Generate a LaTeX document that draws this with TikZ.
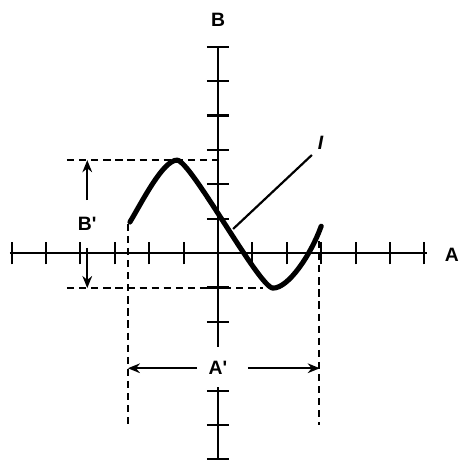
\documentclass[tikz,border=0pt]{standalone}
\usepackage{fontspec}
\setmainfont{Liberation Sans}
\usetikzlibrary{arrows.meta}
\begin{document}
\begin{tikzpicture}[x=1cm,y=1cm,
  axis/.style={line width=2.2pt},
  tickmark/.style={line width=1.8pt},
  curve/.style={line width=4.2pt,line cap=round},
  guide/.style={line width=1.8pt,dash pattern=on 6pt off 4pt},
  dim/.style={line width=1.9pt,-{Stealth[length=10pt,width=8pt]}},
  lbl/.style={font=\fontsize{16}{18}\selectfont\bfseries, inner sep=1pt}]
\useasboundingbox (-6.337,-6.017) rectangle (7.006,7.355);
% coordinates
\coordinate (O) at (0,0);
\coordinate (Al) at (-6.05,0);
\coordinate (Ar) at (6.08,0);
\coordinate (Bt) at (0,6.0);
\coordinate (Bm) at (0,-2.73);
\coordinate (Bb1) at (0,-3.9);
\coordinate (Bb2) at (0,-6.1);
% axes
\draw[axis] (Al) -- (Ar);
\draw[axis] (Bt) -- (Bm);
\draw[axis] (Bb1) -- (Bb2);
\foreach \i in {-6,...,-1,1,2,...,6}
  \draw[tickmark] (\i,-0.33) -- (\i,0.33);
\foreach \j in {1,...,6,-1,-2,-4,-5,-6}
  \draw[tickmark] (-0.32,\j) -- (0.32,\j);
\node[lbl] (labB) at (0,6.77) {B};
\node[lbl] (labA) at (6.8,-0.05) {A};
% dashed guides
\coordinate (S) at (-2.56,0.90);
\coordinate (P) at (-1.19,2.70);
\coordinate (T) at (1.6,-1.02);
\coordinate (E) at (3.0,0.78);
\coordinate (gt1) at (-4.39,2.70);
\coordinate (gt2) at (0,2.70);
\coordinate (gb1) at (-4.39,-1.02);
\coordinate (gb2) at (1.3,-1.02);
\coordinate (gl1) at (-2.62,0.85);
\coordinate (gl2) at (-2.62,-5.0);
\coordinate (gr1) at (2.94,0.35);
\coordinate (gr2) at (2.94,-5.0);
\draw[guide] (gt1) -- (gt2);
\draw[guide] (gb1) -- (gb2);
\draw[guide] (gl1) -- (gl2);
\draw[guide] (gr1) -- (gr2);
% curve
\draw[curve] (S) .. controls (-2.2,1.5) and (-1.6,2.70) .. (P)
  .. controls (-0.8,2.70) and (1.2,-1.02) .. (T)
  .. controls (2.05,-1.02) and (2.7,-0.05) .. (E);
% B' dimension
\node[lbl] (Bp) at (-3.8,0.84) {B\textquotesingle};
\coordinate (Bup) at (-3.8,2.70);
\coordinate (Bdn) at (-3.8,-1.02);
\coordinate (Bs1) at (-3.8,1.54);
\coordinate (Bs2) at (-3.8,0.15);
\draw[dim] (Bs1) -- (Bup);
\draw[dim] (Bs2) -- (Bdn);
% A' dimension
\node[lbl] (Ap) at (0,-3.35) {A\textquotesingle};
\coordinate (Al1) at (-0.61,-3.35);
\coordinate (Al2) at (-2.62,-3.35);
\coordinate (Ar1) at (0.87,-3.35);
\coordinate (Ar2) at (2.96,-3.35);
\draw[dim] (Al1) -- (Al2);
\draw[dim] (Ar1) -- (Ar2);
% I label with leader
\node[lbl, font=\fontsize{16}{18}\selectfont\bfseries\itshape] (labI) at (2.98,3.19) {I};
\coordinate (Ipt) at (0.44,0.70);
\draw[line width=1.8pt] (Ipt) -- (2.73,2.85);
\end{tikzpicture}
\end{document}
